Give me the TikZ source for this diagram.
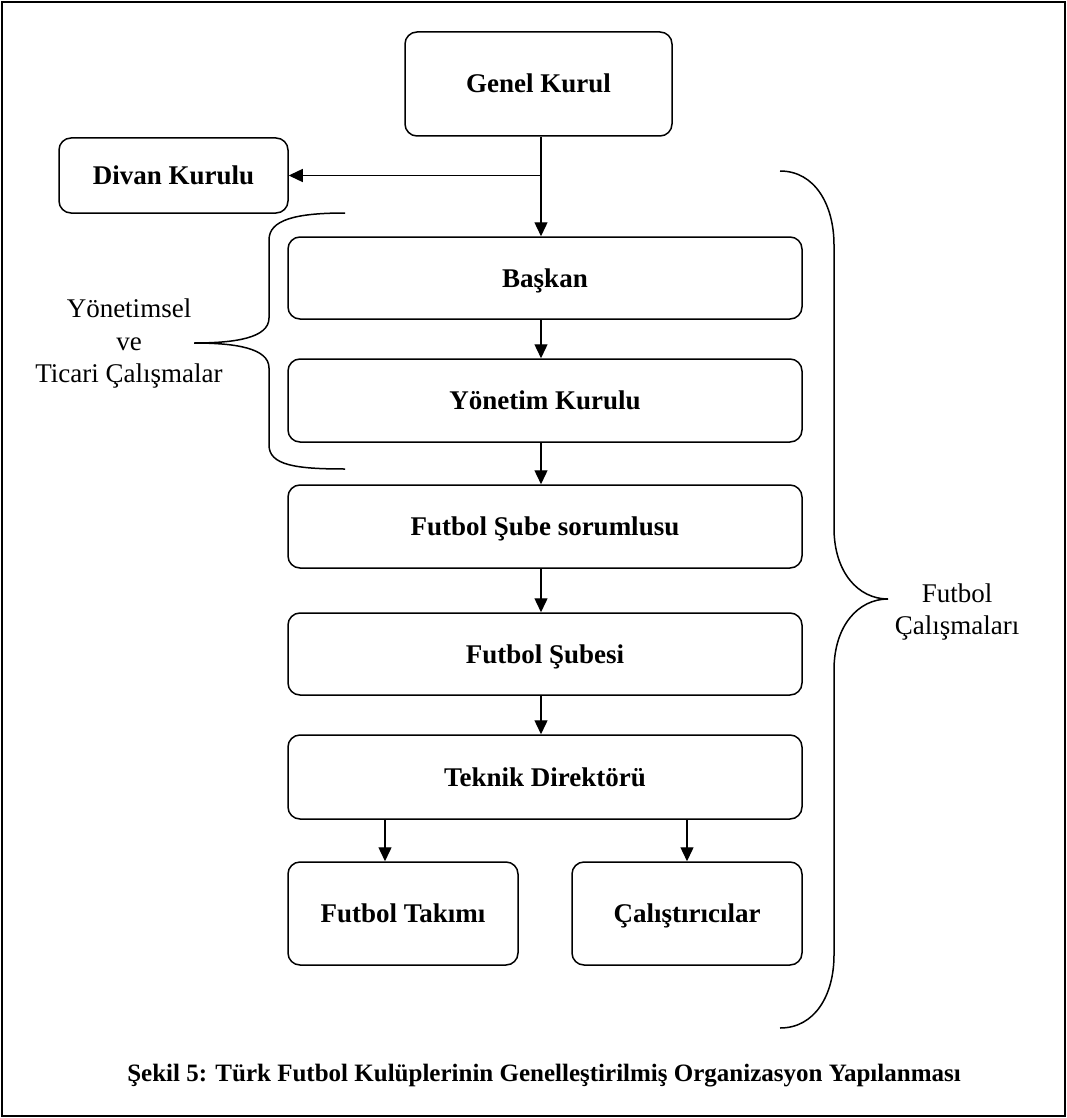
\documentclass[tikz,border=0pt]{standalone}
\usepackage{fontspec}
\setmainfont{Liberation Serif}
\usetikzlibrary{arrows.meta}
\begin{document}
\begin{tikzpicture}[x=1pt,y=-1pt,
    box/.style={draw, line width=1.5pt, rounded corners=12pt, align=center, text height=18pt, text depth=0pt, font=\bfseries\fontsize{27}{32}\selectfont},
    arr/.style={line width=1.4pt, -{Triangle[length=14pt,width=13pt]}},
    brace/.style={line width=1.5pt},
    side/.style={align=center, font=\fontsize{27}{32.5}\selectfont}]

    \useasboundingbox (0,0) rectangle (1067,1118);
    \draw[line width=2pt] (2,2) rectangle (1065,1116);

    \coordinate (spine) at (541,0);
    \node[box, minimum width=267pt, minimum height=104pt] (genel) at (538.5,84) {Genel Kurul};
    \node[box, minimum width=229pt, minimum height=75pt] (divan) at (173.5,175.5) {Divan Kurulu};
    \node[box, minimum width=514pt, minimum height=82pt] (baskan) at (545,278) {Başkan};
    \node[box, minimum width=514pt, minimum height=83pt] (yonetim) at (545,400.5) {Yönetim Kurulu};
    \node[box, minimum width=514pt, minimum height=83pt] (sorumlu) at (545,526.5) {Futbol Şube sorumlusu};
    \node[box, minimum width=514pt, minimum height=82pt] (sube) at (545,654) {Futbol Şubesi};
    \node[box, minimum width=514pt, minimum height=84pt] (teknik) at (545,777) {Teknik Direktörü};
    \node[box, minimum width=230pt, minimum height=103pt] (takim) at (403,913.5) {Futbol Takımı};
    \node[box, minimum width=230pt, minimum height=103pt] (calis) at (687,913.5) {Çalıştırıcılar};

    \coordinate (split) at (spine |- divan.east);
    \draw[line width=1.4pt] (genel.south -| spine) -- (split);
    \draw[arr] (split) -- (divan.east);
    \draw[arr] (split) -- (baskan.north -| spine);
    \draw[arr] (baskan.south -| spine) -- (yonetim.north -| spine);
    \draw[arr] (yonetim.south -| spine) -- (sorumlu.north -| spine);
    \draw[arr] (sorumlu.south -| spine) -- (sube.north -| spine);
    \draw[arr] (sube.south -| spine) -- (teknik.north -| spine);
    \draw[arr] ([xshift=-18pt]teknik.south -| takim.north) -- ([xshift=-18pt]takim.north);
    \draw[arr] (teknik.south -| calis.north) -- (calis.north);

    \draw[brace] (345,213) .. controls (295,213) and (269,220) .. (269,240) -- (269,318)
        .. controls (269,338) and (235,343) .. (194,343)
        .. controls (235,343) and (269,348) .. (269,368) -- (269,445)
        .. controls (269,465) and (295,469) .. (345,469);
    \draw[brace] (780,171) .. controls (815,171) and (834,205) .. (834,245) -- (834,528)
        .. controls (834,572) and (858,599) .. (888,599)
        .. controls (858,599) and (834,626) .. (834,670) -- (834,955)
        .. controls (834,995) and (815,1028) .. (780,1028);

    \node[side] (yonlabel) at (129,344) {Yönetimsel\\ve\\Ticari Çalışmalar};
    \node[side] (futlabel) at (957,612) {Futbol\\Çalışmaları};

    \node[font=\bfseries\fontsize{25}{30}\selectfont] (caption) at (544,1076) {Şekil 5: Türk Futbol Kulüplerinin Genelleştirilmiş Organizasyon Yapılanması};
\end{tikzpicture}
\end{document}
